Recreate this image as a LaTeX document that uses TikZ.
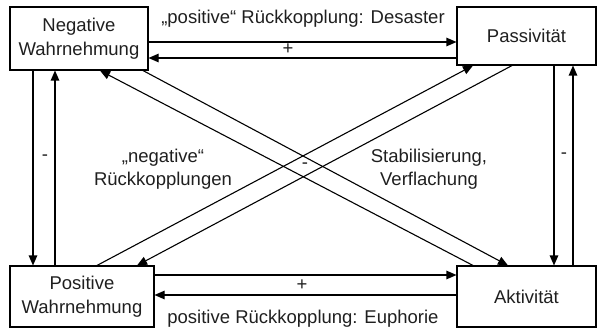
\documentclass[tikz,border=0pt]{standalone}
\usepackage{fontspec}
\setmainfont{Liberation Sans}
\usetikzlibrary{arrows.meta}
\begin{document}
\begin{tikzpicture}[x=1pt,y=-1pt,
  every node/.style={font=\fontsize{18.5}{23.5}\selectfont, text=black!88},
  box/.style={draw, line width=1.1pt, inner sep=0pt, align=center},
  conn/.style={line width=1.1pt},
  arr/.style={conn, -{Triangle[length=10pt,width=8.5pt]}},
  lbl/.style={inner sep=0pt, align=center}]
\useasboundingbox (0,0) rectangle (597,329);
% boxes
\node[box, minimum width=138pt, minimum height=63pt] (nw) at (79,38.5) {Negative\\Wahrnehmung};
\node[box, minimum width=139pt, minimum height=58pt] (ne) at (526.5,36) {Passivität};
\node[box, minimum width=144pt, minimum height=61pt] (sw) at (82,296.5) {Positive\\Wahrnehmung};
\node[box, minimum width=139pt, minimum height=61pt] (se) at (526.5,296.5) {Aktivität};
% horizontal connectors
\draw[arr] (nw.east |- 0,42) -- (ne.west |- 0,42);
\draw[arr] (ne.west |- 0,58) -- (nw.east |- 0,58);
\draw[arr] (sw.east |- 0,275) -- (se.west |- 0,275);
\draw[arr] (se.west |- 0,295) -- (sw.east |- 0,295);
% vertical connectors
\draw[arr] (nw.south -| 33,0) -- (sw.north -| 33,0);
\draw[arr] (sw.north -| 55,0) -- (nw.south -| 55,0);
\draw[arr] (ne.south -| 554,0) -- (se.north -| 554,0);
\draw[arr] (se.north -| 573,0) -- (ne.south -| 573,0);
% diagonal connectors
\draw[arr] (nw.south -| 143,0) -- (se.north -| 508,0);
\draw[arr] (se.north -| 473,0) -- (nw.south -| 100,0);
\draw[arr] (sw.north -| 97,0) -- (ne.south -| 473,0);
\draw[arr] (ne.south -| 512,0) -- (sw.north -| 137,0);
% labels
\node[lbl] (t1) at (303,19) {„positive“ Rückkopplung: Desaster};
\node[lbl] (p1) at (288,49.5) {+};
\node[lbl] (m1) at (45,158) {-};
\node[lbl] (m2) at (564,156) {-};
\node[lbl] (m3) at (305,166) {-};
\node[lbl] (neg) at (163,169) {„negative“\\Rückkopplungen};
\node[lbl] (stab) at (429,169) {Stabilisierung,\\Verflachung};
\node[lbl] (p2) at (302,285) {+};
\node[lbl] (t2) at (303,319) {positive Rückkopplung: Euphorie};
\end{tikzpicture}
\end{document}
